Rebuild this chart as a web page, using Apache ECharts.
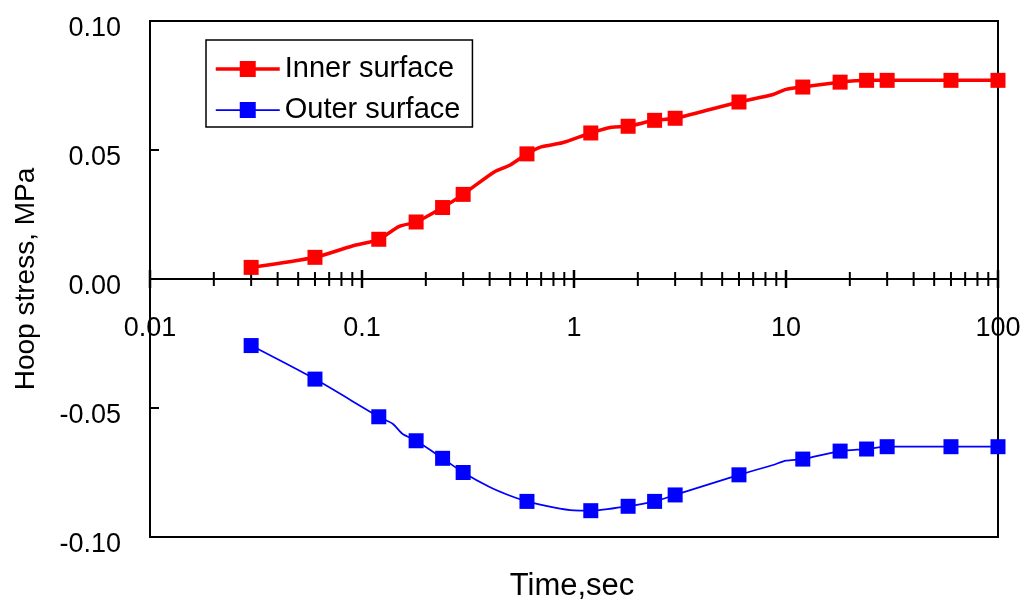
<!DOCTYPE html>
<html>
<head>
<meta charset="utf-8">
<title>Hoop stress vs time</title>
<script src="https://cdn.jsdelivr.net/npm/echarts@6/dist/echarts.min.js"></script>
<style>
  html, body { margin: 0; padding: 0; background: #fff; }
  #chart { width: 1027px; height: 607px; }
</style>
</head>
<body>
<div id="chart"></div>
<script>
// Sampled times (s) carrying markers, and hoop stress (MPa) on each surface
const innerTime   = [0.03, 0.06, 0.12, 0.18, 0.24, 0.3, 0.6, 1.2, 1.8, 2.4, 3, 6, 12, 18, 24, 30, 60, 100];
const innerStress = [0.0045, 0.0084, 0.0154, 0.0221, 0.0277, 0.0328, 0.0485, 0.0566, 0.0592, 0.0615, 0.0623, 0.0686, 0.0744, 0.0763, 0.0770, 0.0770, 0.0770, 0.0770];
const outerTime   = [0.03, 0.06, 0.12, 0.18, 0.24, 0.3, 0.6, 1.2, 1.8, 2.4, 3, 6, 12, 18, 24, 30, 60, 100];
const outerStress = [-0.0258, -0.0388, -0.0534, -0.0627, -0.0695, -0.0750, -0.0862, -0.0898, -0.0881, -0.0862, -0.0837, -0.0759, -0.0698, -0.0667, -0.0659, -0.0650, -0.0650, -0.0650];

// Extra solution points along each curve (drawn in the line, no marker)
const innerBendTime   = [0.09, 0.15, 0.42, 0.5, 0.7, 0.88, 1.5, 8.6, 10];
const innerBendStress = [0.0128, 0.0204, 0.0415, 0.0442, 0.0512, 0.0528, 0.0588, 0.0714, 0.0735];
const outerBendTime   = [0.14, 0.155, 0.4, 0.5, 0.8, 1.0, 8.6, 10];
const outerBendStress = [-0.0562, -0.0600, -0.0806, -0.0840, -0.0885, -0.0897, -0.0722, -0.0704];

// Axis ticks and labels
const yTicks = [-0.10, -0.05, 0.00, 0.05, 0.10];
const xMajorTicks = [0.01, 0.1, 1, 10, 100];
const xTickLabels = ['0.01', '0.1', '1', '10', '100'];
const xMinorSteps = [2, 3, 4, 5, 6, 7, 8, 9];

const FONT = 'Liberation Sans, Arial, sans-serif';

function curveData(t, s, bt, bs) {
  const pts = t.map((x, i) => ({ value: [x, s[i]] }));
  bt.forEach((x, i) => pts.push({ value: [x, bs[i]], symbol: 'none' }));
  pts.sort((a, b) => a.value[0] - b.value[0]);
  return pts;
}

// [time, 0, major index or -1]
const tickData = [];
xMajorTicks.forEach((v, i) => tickData.push([v, 0, i]));
xMajorTicks.slice(0, -1).forEach(d => xMinorSteps.forEach(m => tickData.push([+(d * m).toPrecision(6), 0, -1])));

const chart = echarts.init(document.getElementById('chart'), null, { renderer: 'canvas' });

chart.setOption({
  animation: false,
  backgroundColor: '#fff',
  grid: {
    left: 150, right: 29, top: 21, bottom: 70,
    containLabel: false, outerBoundsMode: 'none',
    show: true, borderColor: '#000', borderWidth: 2, backgroundColor: 'transparent'
  },
  legend: {
    orient: 'vertical',
    left: 206, top: 40,
    padding: [14, 12, 2, 8],
    itemGap: 11,
    itemWidth: 64, itemHeight: 20,
    backgroundColor: '#fff',
    borderColor: '#000', borderWidth: 1.5,
    lineStyle: { width: 'inherit' },
    textStyle: { fontFamily: FONT, fontSize: 29, color: '#000', lineHeight: 30 },
    data: ['Inner surface', 'Outer surface']
  },
  xAxis: {
    type: 'log', logBase: 10, min: 0.01, max: 100,
    axisLine: { onZero: true, lineStyle: { color: '#000', width: 2 } },
    axisTick: { show: false },
    splitLine: { show: false },
    axisLabel: { show: false }
  },
  yAxis: {
    type: 'value', min: -0.10, max: 0.10, interval: 0.05,
    name: 'Hoop stress, MPa', nameLocation: 'middle', nameGap: 110, nameRotate: 90,
    nameTextStyle: { fontFamily: FONT, fontSize: 28, color: '#000' },
    axisLine: { show: true, lineStyle: { color: '#000', width: 2 } },
    axisTick: { show: true, inside: true, length: 9, lineStyle: { color: '#000', width: 2 } },
    splitLine: { show: false },
    axisLabel: {
      margin: 29, color: '#000', fontFamily: FONT, fontSize: 27,
      verticalAlign: 'top', lineHeight: 16,
      formatter: v => (yTicks.find(t => Math.abs(t - v) < 1e-9) ?? v).toFixed(2)
    }
  },
  graphic: [{
    type: 'text', x: 572, y: 586, z: 10,
    style: {
      text: 'Time,sec', align: 'center', verticalAlign: 'middle',
      font: '31px ' + FONT, fill: '#000'
    }
  }],
  series: [
    {
      name: 'Inner surface', type: 'line',
      data: curveData(innerTime, innerStress, innerBendTime, innerBendStress),
      smooth: 0.25,
      symbol: 'rect', symbolSize: 15, showSymbol: true,
      lineStyle: { color: '#ff0000', width: 3.5 },
      itemStyle: { color: '#ff0000' },
      z: 5
    },
    {
      name: 'Outer surface', type: 'line',
      data: curveData(outerTime, outerStress, outerBendTime, outerBendStress),
      smooth: 0.25,
      symbol: 'rect', symbolSize: 15, showSymbol: true,
      lineStyle: { color: '#0000ff', width: 1.75 },
      itemStyle: { color: '#0000ff' },
      z: 5
    },
    {
      // ticks crossing the zero-line time axis, with decade labels beneath
      type: 'custom', silent: true, z: 4, clip: false,
      data: tickData,
      renderItem: (params, api) => {
        const p = api.coord([api.value(0), 0]);
        const idx = api.value(2);
        const major = idx >= 0;
        const h = major ? 9 : 7;
        const children = [{
          type: 'line',
          shape: { x1: p[0], y1: p[1] - h, x2: p[0], y2: p[1] + h },
          style: { stroke: '#000', lineWidth: major ? 2.5 : 2 }
        }];
        if (major) {
          children.push({
            type: 'text', x: p[0], y: p[1] + 50,
            style: {
              text: xTickLabels[idx], align: 'center', verticalAlign: 'middle',
              font: '27px ' + FONT, fill: '#000'
            }
          });
        }
        return { type: 'group', children };
      }
    }
  ]
});
</script>
</body>
</html>
